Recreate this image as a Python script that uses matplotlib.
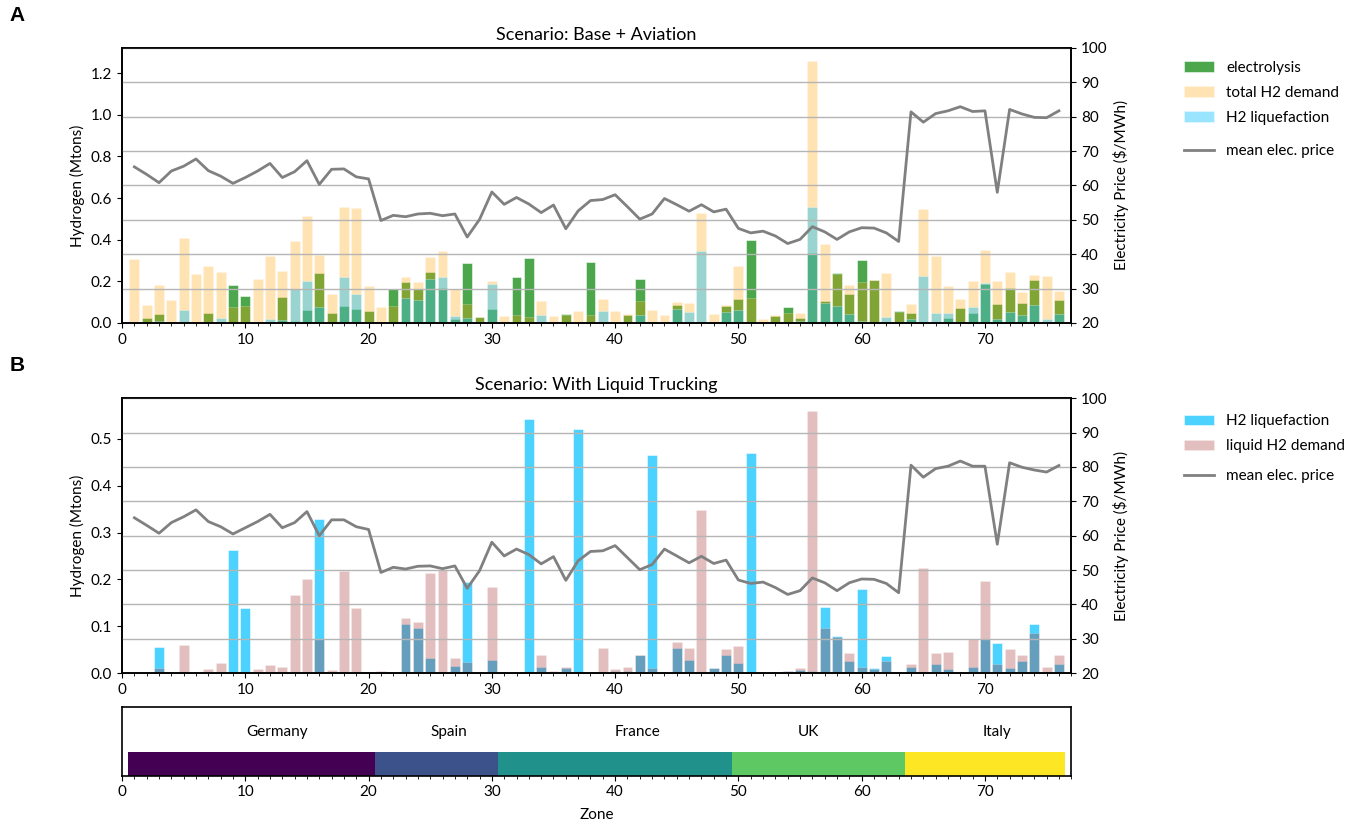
import numpy as np
import matplotlib
matplotlib.use("Agg")
import matplotlib.pyplot as plt
from matplotlib.ticker import MultipleLocator

plt.rcParams['font.family'] = ['Lato', 'DejaVu Sans']
plt.rcParams['font.size'] = 11

zones = np.arange(1, 77)

# scenario A: base + aviation (Mtons)
electrolysis = [0, 0.026, 0.042, 0, 0, 0, 0.05, 0, 0.18, 0.128,
                0, 0, 0.123, 0.01, 0.064, 0.238, 0.048, 0.083, 0.069, 0.056,
                0, 0.163, 0.197, 0.161, 0.245, 0.17, 0.018, 0.288, 0.027, 0.067,
                0, 0.222, 0.313, 0, 0, 0.045, 0, 0.291, 0, 0,
                0.04, 0.21, 0, 0, 0.085, 0, 0, 0, 0.08, 0.117,
                0.4, 0, 0.034, 0.078, 0.024, 0.335, 0.107, 0.24, 0.138, 0.304,
                0.208, 0, 0.058, 0.05, 0, 0, 0.022, 0.07, 0.05, 0.187,
                0.09, 0.17, 0.096, 0.208, 0, 0.112]
total_demand = [0.305, 0.085, 0.18, 0.112, 0.406, 0.235, 0.272, 0.243, 0.075, 0.083,
                0.21, 0.321, 0.248, 0.392, 0.513, 0.328, 0.137, 0.558, 0.55, 0.176,
                0.075, 0.08, 0.22, 0.198, 0.315, 0.344, 0.165, 0.09, 0.03, 0.2,
                0.035, 0.04, 0.03, 0.105, 0.035, 0.04, 0.056, 0.037, 0.115, 0.056,
                0.043, 0.106, 0.06, 0.037, 0.1, 0.098, 0.53, 0.043, 0.088, 0.272,
                0.122, 0.018, 0.037, 0.05, 0.05, 1.258, 0.38, 0.235, 0.18, 0.195,
                0.205, 0.238, 0.055, 0.09, 0.545, 0.32, 0.176, 0.117, 0.203, 0.349,
                0.2, 0.245, 0.147, 0.229, 0.224, 0.152]
liquefaction_a = [0, 0, 0.008, 0, 0.061, 0, 0, 0.022, 0, 0,
                  0.005, 0.02, 0.015, 0.165, 0.2, 0.075, 0, 0.222, 0.141, 0,
                  0, 0, 0.118, 0.11, 0.213, 0.219, 0.034, 0.026, 0, 0.185,
                  0, 0, 0, 0.04, 0, 0.005, 0, 0, 0.056, 0,
                  0, 0.04, 0.005, 0, 0.067, 0.053, 0.345, 0.005, 0.053, 0.06,
                  0, 0, 0, 0, 0.01, 0.557, 0.098, 0.08, 0.042, 0.01,
                  0, 0.027, 0, 0.02, 0.224, 0.046, 0.048, 0, 0.075, 0.193,
                  0.02, 0.053, 0.04, 0.086, 0.02, 0.042]
price_a = [65.4, 63.2, 60.8, 64.2, 65.6, 67.7, 64.3, 62.7, 60.6, 62.3,
           64.2, 66.4, 62.3, 64.0, 67.2, 60.3, 64.7, 64.8, 62.5, 61.9,
           49.8, 51.3, 50.9, 51.7, 51.9, 51.2, 51.7, 45.0, 50.1, 58.1,
           54.5, 56.5, 54.6, 52.1, 54.3, 47.4, 52.6, 55.6, 55.9, 57.3,
           53.8, 50.2, 51.7, 56.2, 54.4, 52.5, 54.4, 52.3, 53.1, 47.5,
           46.2, 46.7, 45.3, 43.1, 44.3, 48.0, 46.5, 44.3, 46.5, 47.7,
           47.6, 46.2, 43.7, 81.4, 78.4, 80.9, 81.7, 82.9, 81.5, 81.7,
           58.0, 82.1, 80.8, 79.8, 79.7, 81.7]

# scenario B: with liquid trucking (Mtons)
liquefaction_b = [0, 0, 0.056, 0, 0, 0, 0, 0, 0.263, 0.139,
                  0, 0, 0, 0, 0, 0.329, 0, 0, 0, 0,
                  0, 0, 0.104, 0.097, 0.033, 0, 0.015, 0.195, 0, 0.029,
                  0, 0, 0.543, 0.013, 0, 0.012, 0.521, 0, 0, 0.004,
                  0.004, 0.038, 0.465, 0, 0.053, 0.029, 0, 0.011, 0.039, 0.021,
                  0.47, 0, 0, 0.004, 0.007, 0.004, 0.141, 0.079, 0.026, 0.179,
                  0.011, 0.037, 0, 0.014, 0, 0.019, 0.009, 0, 0.014, 0.074,
                  0.064, 0.011, 0.027, 0.105, 0, 0.019]
liquid_demand = [0, 0, 0.011, 0, 0.061, 0, 0.008, 0.021, 0, 0,
                 0.008, 0.017, 0.014, 0.166, 0.202, 0.074, 0.007, 0.219, 0.14, 0,
                 0.005, 0, 0.118, 0.109, 0.214, 0.22, 0.033, 0.024, 0, 0.184,
                 0, 0, 0, 0.038, 0.004, 0.014, 0, 0, 0.054, 0.008,
                 0.013, 0.039, 0.011, 0, 0.066, 0.053, 0.349, 0.011, 0.051, 0.059,
                 0, 0.002, 0, 0.004, 0.011, 0.559, 0.096, 0.077, 0.043, 0.014,
                 0.01, 0.025, 0, 0.019, 0.224, 0.044, 0.046, 0.003, 0.074, 0.196,
                 0.02, 0.051, 0.039, 0.085, 0.014, 0.039]
price_b = [65.2, 63.0, 60.7, 63.8, 65.5, 67.5, 64.1, 62.6, 60.5, 62.3,
           64.1, 66.2, 62.3, 63.8, 67.0, 60.0, 64.6, 64.6, 62.6, 61.8,
           49.3, 50.8, 50.3, 51.1, 51.2, 50.4, 51.2, 44.7, 49.8, 58.1,
           54.1, 56.1, 54.5, 51.8, 53.9, 47.0, 52.7, 55.4, 55.6, 57.1,
           53.6, 50.1, 51.6, 56.1, 54.1, 52.1, 54.0, 51.9, 52.9, 47.1,
           46.1, 46.5, 44.9, 42.9, 44.0, 47.7, 46.3, 44.0, 46.3, 47.4,
           47.3, 46.1, 43.4, 80.5, 77.0, 79.5, 80.2, 81.7, 80.2, 80.2,
           57.5, 81.2, 79.9, 79.1, 78.5, 80.4]

countries = ["Germany", "Spain", "France", "UK", "Italy"]
country_first = [1, 21, 31, 50, 64]
country_last = [20, 30, 49, 63, 76]
country_label_x = [12.6, 26.5, 41.8, 55.7, 71.0]

BW = 0.8


def style_axes(ax):
    for s in ax.spines.values():
        s.set_linewidth(1.2)
    ax.set_xlim(0, 77)
    ax.xaxis.set_major_locator(MultipleLocator(10))
    ax.xaxis.set_minor_locator(MultipleLocator(1))
    ax.tick_params(which='minor', length=2.5)


def price_axis(ax, price):
    ax2 = ax.twinx()
    ax2.plot(zones, price, color='gray', lw=2, label='mean elec. price')
    ax2.set_ylim(20, 100)
    ax2.set_ylabel('Electricity Price ($/MWh)')
    ax2.grid(axis='y', color='#b5b5b5', lw=1)
    for s in ax2.spines.values():
        s.set_linewidth(1.2)
    return ax2


fig = plt.figure(figsize=(13.56, 8.26), dpi=100)

# panel A
axA = fig.add_axes([0.090, 0.609, 0.700, 0.333])
axA.bar(zones, electrolysis, BW, color='green', alpha=0.7, edgecolor='white', lw=0.5, label='electrolysis')
axA.bar(zones, total_demand, BW, color='orange', alpha=0.3, edgecolor='white', lw=0.5, label='total H2 demand')
axA.bar(zones, liquefaction_a, BW, color='deepskyblue', alpha=0.4, edgecolor='white', lw=0.5, label='H2 liquefaction')
axA.set_ylabel('Hydrogen (Mtons)')
axA.set_title('Scenario: Base + Aviation', fontsize=13)
style_axes(axA)
axA2 = price_axis(axA, price_a)
axA.legend(loc='upper left', bbox_to_anchor=(1.112, 0.975), frameon=False,
           borderaxespad=0, labelspacing=0.72)
axA2.legend(loc='upper left', bbox_to_anchor=(1.112, 0.672), frameon=False, borderaxespad=0)

# panel B
axB = fig.add_axes([0.090, 0.185, 0.700, 0.333])
axB.bar(zones, liquefaction_b, BW, color='deepskyblue', alpha=0.7, edgecolor='white', lw=0.5, label='H2 liquefaction')
axB.bar(zones, liquid_demand, BW, color='brown', alpha=0.3, edgecolor='white', lw=0.5, label='liquid H2 demand')
axB.set_ylabel('Hydrogen (Mtons)')
axB.set_title('Scenario: With Liquid Trucking', fontsize=13)
style_axes(axB)
axB2 = price_axis(axB, price_b)
axB.legend(loc='upper left', bbox_to_anchor=(1.112, 0.963), frameon=False,
           borderaxespad=0, labelspacing=0.72)
axB2.legend(loc='upper left', bbox_to_anchor=(1.112, 0.765), frameon=False, borderaxespad=0)

# country strip
axC = fig.add_axes([0.090, 0.061, 0.700, 0.083])
cols = plt.cm.viridis(np.linspace(0, 1, len(countries)))
for i, c in enumerate(countries):
    zs = np.arange(country_first[i], country_last[i] + 1)
    axC.bar(zs, 0.35, 1.0, color=cols[i])
    axC.text(country_label_x[i], 0.64, c, ha='center', va='center')
axC.set_ylim(0, 1)
axC.set_yticks([])
axC.set_xlabel('Zone', labelpad=6)
style_axes(axC)

fig.text(0.007, 0.975, 'A', fontsize=15, fontweight='bold', family='Liberation Sans')
fig.text(0.007, 0.551, 'B', fontsize=15, fontweight='bold', family='Liberation Sans')

fig.savefig('out.png', dpi=100)
